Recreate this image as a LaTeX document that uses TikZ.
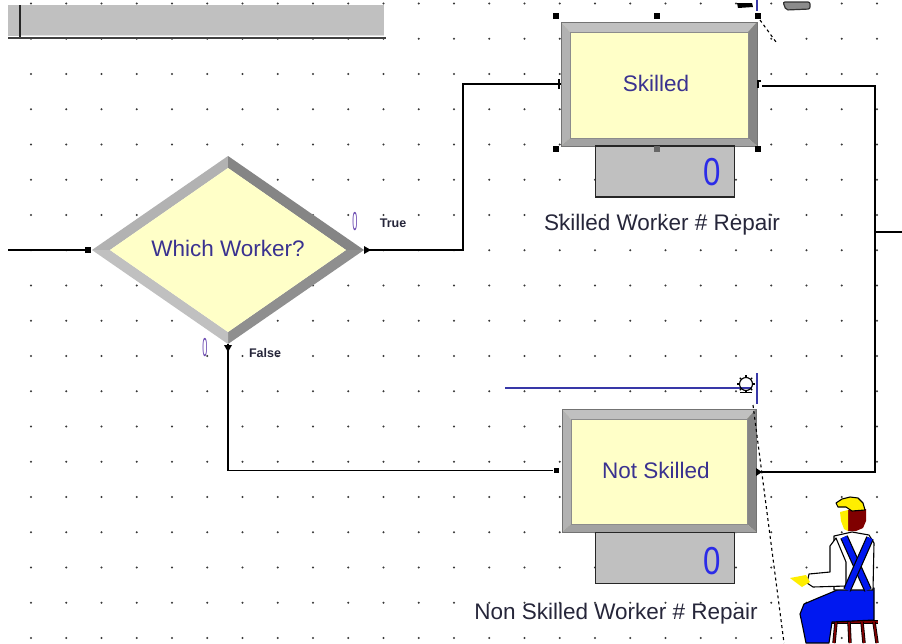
\documentclass[tikz,border=0pt]{standalone}
\usepackage{fontspec}
\setmainfont{Liberation Sans}
\usetikzlibrary{calc}

\definecolor{modfill}{HTML}{FFFFC8}
\definecolor{bevlight}{HTML}{C0C0C0}
\definecolor{bevleft}{HTML}{B2B2B2}
\definecolor{bevmid}{HTML}{A2A2A2}
\definecolor{bevdark}{HTML}{858585}
\definecolor{modtext}{HTML}{3A3290}
\definecolor{labtext}{HTML}{26263A}
\definecolor{cntblue}{HTML}{2B2BE8}
\definecolor{smallcnt}{HTML}{6A48B0}
\definecolor{resblue}{HTML}{3838A8}
\definecolor{gridgray}{HTML}{383838}
\definecolor{hatyellow}{HTML}{FFEE00}
\definecolor{skin}{HTML}{800000}
\definecolor{overall}{HTML}{0018F0}

% beveled Arena-style module frame: x1 y1 x2 y2
\newcommand\bevelframe[4]{%
  \fill[modfill] (#1,#2) rectangle (#3,#4);
  \fill[bevlight] (#1,#2) -- (#3,#2) -- (#3-9,#2+10) -- (#1+9,#2+10) -- cycle;
  \fill[bevleft] (#1,#2) -- (#1+9,#2+10) -- (#1+9,#4-8) -- (#1,#4) -- cycle;
  \fill[bevdark] (#3,#2) -- (#3,#4) -- (#3-9,#4-8) -- (#3-9,#2+10) -- cycle;
  \fill[bevmid] (#1,#4) -- (#3,#4) -- (#3-9,#4-8) -- (#1+9,#4-8) -- cycle;
  \draw[black!55, line width=1] (#1,#2) rectangle (#3,#4);
  \draw[black!45, line width=0.5] (#1+9,#2+10) rectangle (#3-9,#4-8);
}

\tikzset{
  conn/.style={black, line width=1.3},
  modlabel/.style={text=modtext, font=\fontsize{22.5}{26}\selectfont, inner sep=0pt},
  modbox/.style={draw=none, inner sep=0pt, minimum width=196pt, minimum height=124pt},
  queuebox/.style={draw=black!85, line width=1.2, fill=bevlight, inner sep=0pt, minimum width=139pt, minimum height=51pt},
  countnum/.style={text=cntblue, font=\fontsize{39}{40}\selectfont, inner sep=0pt},
  qlabel/.style={text=labtext, font=\fontsize{22.5}{26}\selectfont, inner sep=0pt},
  branch/.style={text=labtext, font=\bfseries\fontsize{12.5}{14}\selectfont, inner sep=0pt},
  smallzero/.style={text=smallcnt, font=\fontsize{26}{28}\selectfont, inner sep=0pt},
  handle/.style={fill=black, draw=none, inner sep=0pt, minimum size=6pt},
  outline/.style={draw=black, line width=1.1, line join=round},
}

\begin{document}
\begin{tikzpicture}[x=1pt, y=-1pt]
\useasboundingbox (0,0) rectangle (902,643);
\fill[white] (0,0) rectangle (902,643);

% snap grid
\foreach \i in {1,...,25}
  \foreach \j in {0,...,18}
    \fill[gridgray] (-4.25+35.25*\i, 3.5+35.25*\j) circle (1.05);

% docked toolbar strip
\fill[bevlight] (8,5) rectangle (384,36);
\draw[black!12, line width=1] (21,35.5) -- (384,35.5);
\draw[black!85, line width=2] (20,5) -- (20,38);
\draw[black!75, line width=2.2] (8,38) -- (386,38);

% ---------- Decide module ----------
\coordinate (dW) at (92,250);
\coordinate (dN) at (228,156);
\coordinate (dE) at (364,250);
\coordinate (dS) at (228,344);
\coordinate (iW) at (110,250);
\coordinate (iN) at (228,168);
\coordinate (iE) at (346,250);
\coordinate (iS) at (228,332);
\fill[bevleft] (dW) -- (dN) -- (iN) -- (iW) -- cycle;
\fill[bevdark] (dN) -- (dE) -- (iE) -- (iN) -- cycle;
\fill[bevdark!92!white] (dE) -- (dS) -- (iS) -- (iE) -- cycle;
\fill[bevlight] (dS) -- (dW) -- (iW) -- (iS) -- cycle;
\fill[modfill] (iW) -- (iN) -- (iE) -- (iS) -- cycle;
\node[modlabel] (decide) at (228,248) {Which Worker?};

% incoming connector
\coordinate (inL) at (8,250);
\node[handle] (inport) at (88,250) {};
\draw[conn] (inL) -- (inport);

% counters and branch labels
\node[smallzero, xscale=0.35] (cntT) at (355,222) {0};
\node[branch] (lblT) at (393,223) {True};
\node[smallzero, xscale=0.35] (cntF) at (205,348) {0};
\node[branch] (lblF) at (265,353) {False};

% ---------- Process modules ----------
\bevelframe{561}{22}{757}{146}
\node[modbox] (sk) at (659,84) {};
\node[modlabel] (sktext) at (656,83) {Skilled};

\bevelframe{562}{409}{756}{532}
\node[modbox] (ns) at (659,470.5) {};
\node[modlabel] (nstext) at (656,470) {Not Skilled};

% queues
\node[queuebox] (skq) at (665,171.5) {};
\node[countnum, xscale=0.8] (skn) at (712,172) {0};
\node[queuebox] (nsq) at (665,558) {};
\node[countnum, xscale=0.8] (nsn) at (712,561) {0};

\node[qlabel] (skl) at (662,225) {Skilled Worker \# Repair};
\node[qlabel] (nsl) at (616,614) {Non Skilled Worker \# Repair};

% selection handles around Skilled
\node[handle] (h1) at (556,16) {};
\node[handle] (h2) at (657,16) {};
\node[handle] (h3) at (758,16) {};
\node[handle] (h4) at (556,149) {};
\node[handle, fill=black!60] (h5) at (657,149) {};
\node[handle] (h6) at (758,149) {};

% ---------- Connectors ----------
\coordinate (bendT) at (463,250);
\draw[conn] (dE) -- (bendT) |- (sk.west);
\fill (364,246) -- (371,250) -- (364,254) -- cycle;
\draw[black, line width=1.2] (559,79) -- (559,89);

\node[handle, minimum size=5pt] (nsin) at (556,470.5) {};
\draw[conn] (dS) |- (nsin);
\fill (224,345) -- (232,345) -- (228,352) -- cycle;

\coordinate (jT) at (875,86);
\coordinate (jM) at (875,232);
\coordinate (jB) at (875,472);
\coordinate (outR) at (902,232);
\draw[conn] (762,86) -- (jT) -- (jB) -- (762,472);
\draw[conn] (jM) -- (outR);
\draw[black, line width=1.2] (761,81) -- (758,81) -- (758,88);
\fill (756,468) -- (762,472) -- (756,476) -- cycle;

% ---------- Resource animation ----------
\coordinate (resA) at (505,388);
\coordinate (resB) at (752,388);
\draw[resblue, line width=1.8] (resA) -- (resB);
\draw[resblue, line width=1.8] (757,373) -- (757,404);
\draw[black, line width=1.1] (746,384) circle (6.5);
\foreach \a in {0,45,...,315}
  \draw[black, line width=1.2] (746,384) ++(\a:6.5) -- ++(\a:2.2);
\draw[black, line width=1] (740,392) -- (752,392);
\draw[black, dashed, line width=1.1] (753,405) -- (784,643);

% partially visible items at the top edge
\draw[resblue, line width=1.6] (757,0) -- (757,11);
\fill[black] (737,3) -- (752,3) -- (753,7) -- (738,8) -- cycle;
\draw[black!80, fill=black!45, line width=1.2, rounded corners=2] (783,2) -- (810,2) -- (810,9) -- (786,10) -- cycle;
\draw[black, dashed, line width=1.1] (760,20) -- (776,42);

% ---------- Worker figure ----------
% stool
\draw[black, line width=3.2] (830,622) -- (878,622);
\draw[skin, line width=1.8] (830,622) -- (878,622);
\foreach \x/\dx in {836/-2, 849/1, 862/2, 874/3} {
  \draw[black, line width=3.4] (\x,622) -- (\x+\dx,643);
  \draw[skin, line width=1.8] (\x,622) -- (\x+\dx,643);
}
% trousers
\filldraw[fill=overall, outline] (842,588) -- (874,588) -- (874,620) -- (832,622) -- (829,643) -- (806,643) -- (803,628) -- (800,614) -- (804,604) -- (818,598) -- cycle;
% shirt
\filldraw[fill=white, outline] (834,536) -- (852,532) -- (869,535) -- (874,543) -- (873,590) -- (834,590) -- cycle;
\filldraw[fill=white, outline] (836,538) -- (830,546) -- (830,572) -- (809,574) -- (807,583) -- (813,587) -- (846,586) -- (846,562) -- cycle;
% braces
\draw[black, line width=8] (844,537) -- (868,590);
\draw[overall, line width=5.6] (844,537) -- (868,590);
\draw[black, line width=8] (870,538) -- (847,590);
\draw[overall, line width=5.6] (870,538) -- (847,590);
% hand holding paper
\filldraw[fill=hatyellow, draw=none] (790,578) -- (806,575) -- (810,582) -- (802,587) -- cycle;
% head
\fill[skin] (848,510) -- (866,509) -- (866,521) -- (863,528) -- (856,531) -- (848,531) -- cycle;
\fill[hatyellow] (840,512) -- (848,510) -- (848,531) -- (844,529) -- (841,521) -- cycle;
\filldraw[fill=hatyellow, outline] (836,503) -- (842,499) -- (850,497) -- (858,498) -- (863,503) -- (865,510) -- (852,511) -- (846,507) -- (838,507) -- cycle;
\end{tikzpicture}
\end{document}
